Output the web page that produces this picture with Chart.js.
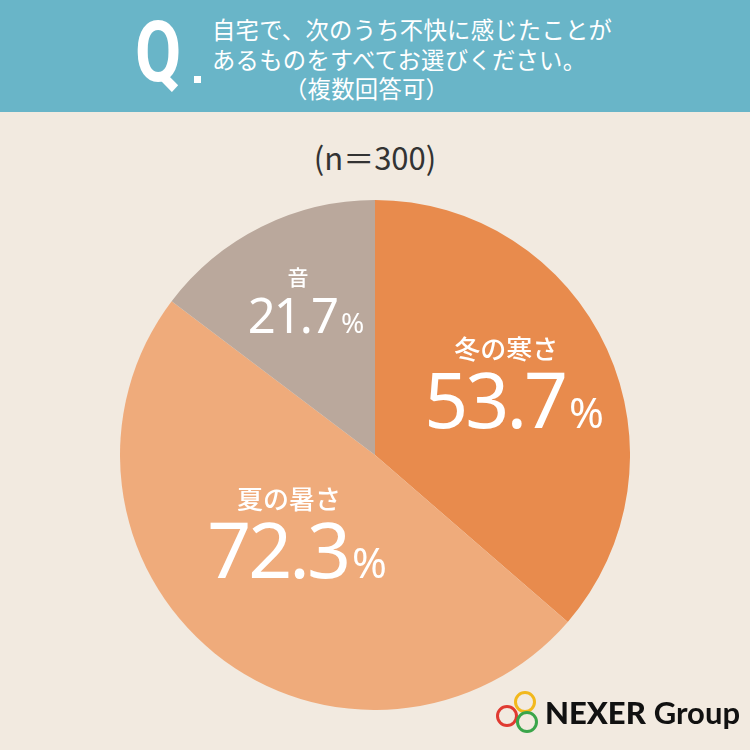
<!DOCTYPE html>
<html lang="ja">
<head>
<meta charset="utf-8">
<script src="https://cdn.jsdelivr.net/npm/chart.js@4"></script>
<style>
  html, body { margin: 0; padding: 0; }
  body {
    width: 750px; height: 750px; position: relative; overflow: hidden;
    background: #f2eae0;
    font-family: "Noto Sans CJK JP", "Noto Sans", sans-serif;
  }
  .head {
    position: absolute; left: 0; top: 0; width: 750px; height: 112px;
    background: #69b5c8; color: #fff;
  }
  .q {
    position: absolute; left: 135px; top: 6px;
    font-family: "Roboto", sans-serif; font-weight: 700;
    font-size: 86px; line-height: 92px; transform: scaleX(0.78); transform-origin: left;
  }
  .qdot {
    position: absolute; left: 194px; top: 76px; width: 7px; height: 7px; background: #fff;
  }
  .ttl {
    position: absolute; left: 212px; top: 15px;
    font-size: 23.3px; line-height: 29.5px; letter-spacing: 0.3px;
  }
  .ttl .l3 { padding-left: 72px; }
  .n {
    position: absolute; left: 0; width: 750px; top: 134px; text-align: center;
    font-size: 31px; color: #333; font-family: "Noto Sans CJK JP", sans-serif;
  }
  #wrap { position: absolute; left: 120px; top: 200px; width: 510px; height: 510px; }
  .logo { position: absolute; left: 496px; top: 690px; width: 250px; height: 46px; }
  .logo svg { position: absolute; left: 0; top: 0; }
  .logo .t {
    position: absolute; left: 49px; top: 4px; font-family: "Lato", sans-serif;
    font-size: 31px; color: #111; white-space: nowrap; line-height: 36px;
  }
  .logo .t b { font-weight: 900; }
  .logo .t span { font-weight: 700; }
</style>
</head>
<body>
<div class="head">
  <div class="q">Q</div>
  <div class="qdot"></div>
  <div class="ttl">自宅で、次のうち不快に感じたことが<br>あるものをすべてお選びください。<br><span class="l3">（複数回答可）</span></div>
</div>
<div class="n">(n＝300)</div>
<div id="wrap"><canvas id="pie" width="510" height="510"></canvas></div>
<div class="logo">
  <svg width="48" height="46">
    <circle cx="29" cy="12" r="9.5" fill="none" stroke="#f2b81c" stroke-width="3"/>
    <circle cx="11" cy="26" r="9.5" fill="none" stroke="#e03a31" stroke-width="3"/>
    <circle cx="31" cy="32" r="9.5" fill="none" stroke="#3aa54a" stroke-width="3"/>
  </svg>
  <div class="t"><b>NEXER</b> <span>Group</span></div>
</div>
<script>
var labels = ['冬の寒さ', '夏の暑さ', '音'];
var values = [53.7, 72.3, 21.7];
var colors = ['#e88b4d', '#efab7b', '#baa89c'];

// label placement per slice: radius factor, angle nudge (rad), font sizes, baseline offsets
var place = [
  { r: 0.60, a: 0.00, name: 26, num: 77, pct: 42, ls: -3, nameDy: -32, numDy: 37 },
  { r: 0.455, a: 0.056, name: 26, num: 77, pct: 42, ls: -3, nameDy: -32, numDy: 37 },
  { r: 0.647, a: 0.03, name: 21, num: 49, pct: 28, ls: -2, nameDy: -20, numDy: 28 }
];

var sliceLabels = {
  id: 'sliceLabels',
  afterDatasetsDraw: function (chart) {
    var ctx = chart.ctx;
    var arcs = chart.getDatasetMeta(0).data;
    arcs.forEach(function (arc, i) {
      var p = place[i];
      var mid = (arc.startAngle + arc.endAngle) / 2 + p.a;
      var rr = arc.outerRadius * p.r;
      var x = arc.x + Math.cos(mid) * rr;
      var y = arc.y + Math.sin(mid) * rr;
      ctx.save();
      ctx.fillStyle = '#fff';
      ctx.textBaseline = 'alphabetic';
      ctx.textAlign = 'center';
      ctx.font = '500 ' + p.name + 'px "Noto Sans CJK JP"';
      ctx.fillText(labels[i], x - 8, y + p.nameDy);
      var num = values[i].toFixed(1);
      ctx.letterSpacing = p.ls + 'px';
      ctx.font = '400 ' + p.num + 'px "Noto Sans"';
      var w1 = ctx.measureText(num).width;
      ctx.letterSpacing = '0px';
      ctx.font = '400 ' + p.pct + 'px "Noto Sans"';
      var w2 = ctx.measureText('%').width;
      var sx = x - (w1 + w2 + 4) / 2;
      var by = y + p.numDy;
      ctx.textAlign = 'left';
      ctx.letterSpacing = p.ls + 'px';
      ctx.font = '400 ' + p.num + 'px "Noto Sans"';
      ctx.fillText(num, sx, by);
      ctx.letterSpacing = '0px';
      ctx.font = '400 ' + p.pct + 'px "Noto Sans"';
      ctx.fillText('%', sx + w1 + 4, by);
      ctx.restore();
    });
  }
};

new Chart(document.getElementById('pie'), {
  type: 'pie',
  data: {
    labels: labels,
    datasets: [{ data: values, backgroundColor: colors, borderWidth: 0 }]
  },
  options: {
    responsive: false,
    animation: false,
    layout: { padding: 0 },
    plugins: { legend: { display: false }, tooltip: { enabled: false } }
  },
  plugins: [sliceLabels]
});
</script>
</body>
</html>
